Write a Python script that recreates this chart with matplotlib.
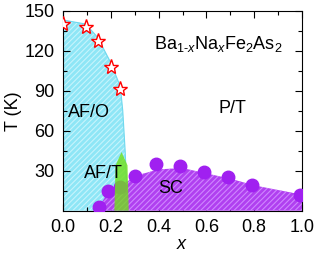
import matplotlib
matplotlib.use("Agg")
import matplotlib.pyplot as plt
import numpy as np
from matplotlib.patches import Polygon

plt.rcParams['font.family'] = ['Liberation Sans', 'DejaVu Sans']
plt.rcParams['mathtext.fontset'] = 'custom'
plt.rcParams['mathtext.rm'] = 'Liberation Sans'
plt.rcParams['mathtext.it'] = 'Liberation Sans:italic'
plt.rcParams['mathtext.bf'] = 'Liberation Sans:bold'
plt.rcParams['hatch.linewidth'] = 0.8

# Tn / Ts star data (AF/O transition)
star_x = [0.0, 0.095, 0.145, 0.20, 0.24]
star_T = [140, 138, 127, 108, 91]

# AF/O region boundary
afo_x = [0.0, 0.095, 0.145, 0.20, 0.24, 0.25, 0.255, 0.26, 0.265, 0.27]
afo_T = [143, 140, 130, 111, 93, 75, 60, 45, 25, 0]

# SC dome data
sc_x = [0.15, 0.19, 0.24, 0.30, 0.39, 0.49, 0.59, 0.69, 0.79, 0.99]
sc_T = [2.5, 15, 18, 26, 35, 33.5, 29, 25, 19, 12]

# SC region boundary
scb_x = [0.13, 0.15, 0.19, 0.24, 0.30, 0.40, 0.50, 0.60, 0.70, 0.80, 1.0]
scb_T = [0, 3, 14, 18, 26, 31, 32, 28, 24, 19, 12]

# AF/T arrow (x range and T top)
aft_x0, aft_x1, aft_top = 0.215, 0.275, 44

fig = plt.figure(figsize=(3.14, 2.54), dpi=100)
ax = fig.add_axes([63/314, 1-210.7/254, (302-63)/314, (210.7-10.7)/254])

# AF/O region
px = [0.0] + afo_x + [0.0]
pT = [0.0] + afo_T + [0.0]
ax.fill(px, pT, facecolor='#8ee6f6', edgecolor='#c6f4fc', hatch='//////', lw=0, zorder=1)
ax.plot(afo_x, afo_T, color='#6fd8ee', lw=0.8, zorder=1)

# SC region
qx = scb_x + [1.0]
qT = scb_T + [0.0]
ax.fill(qx, qT, facecolor='#b040f0', edgecolor='#cf86ff', hatch='//////', lw=0, zorder=2)

# SC dots
ax.plot(sc_x, sc_T, 'o', color='#a020f0', ms=9, mec='#a020f0', zorder=3, clip_on=True)

# AF/T arrow (semi-transparent green)
shaft_top = aft_top - 10
xm = (aft_x0 + aft_x1) / 2
arrow = Polygon([(aft_x0, 0), (aft_x1, 0), (aft_x1 - 0.005, shaft_top), (xm + 0.025, shaft_top),
                 (xm, aft_top), (xm - 0.025, shaft_top), (aft_x0 + 0.005, shaft_top)],
                closed=True, facecolor='#70e018', alpha=0.8, lw=0, zorder=4)
ax.add_patch(arrow)

# Stars
ax.plot(star_x, star_T, marker='*', ls='none', ms=11, mfc='white', mec='red', mew=1.0,
        zorder=5, clip_on=True)

ax.set_xlim(0, 1.0)
ax.set_ylim(0, 150)
ax.set_xticks([0.0, 0.2, 0.4, 0.6, 0.8, 1.0])
ax.set_xticklabels(['0.0', '0.2', '0.4', '0.6', '0.8', '1.0'])
ax.set_yticks([30, 60, 90, 120, 150])
ax.set_xticks(np.arange(0.1, 1.0, 0.2), minor=True)
ax.set_yticks([15, 45, 75, 105, 135], minor=True)
ax.tick_params(which='both', direction='in', top=True, right=True, labelsize=13, pad=6)
ax.tick_params(which='major', length=5, width=0.8)
ax.tick_params(which='minor', length=3, width=0.8)
for s in ax.spines.values():
    s.set_linewidth(0.8)

ax.set_xlabel('$x$', fontsize=13, labelpad=0)
ax.set_ylabel('T (K)', fontsize=13, labelpad=2)

ax.text(0.02, 74, 'AF/O', fontsize=13, va='center', ha='left', zorder=6)
ax.text(0.71, 77, 'P/T', fontsize=13, va='center', ha='center', zorder=6)
ax.text(0.17, 28, 'AF/T', fontsize=13, va='center', ha='center', zorder=6)
ax.text(0.45, 17, 'SC', fontsize=13, va='center', ha='center', zorder=6)
ax.text(0.92, 121, r'Ba$_{1\text{-}x}$Na$_x$Fe$_2$As$_2$', fontsize=13, va='baseline', ha='right', zorder=6)

fig.savefig('out.png', dpi=100)
